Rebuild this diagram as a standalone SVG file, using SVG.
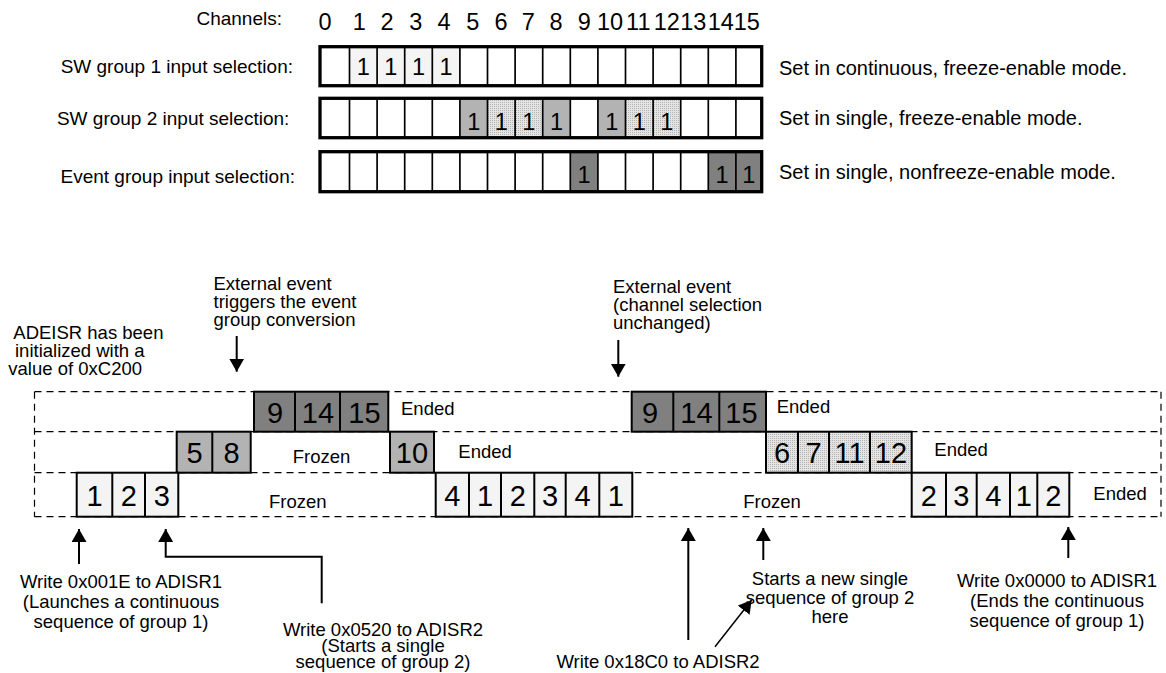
<svg xmlns="http://www.w3.org/2000/svg" width="1166" height="673" viewBox="0 0 1166 673">
<style>
text{font-family:"Liberation Sans",Arial,Helvetica,sans-serif;fill:#000}
.lbl{font-size:18.5px}
.hdr{font-size:19px}
.set{font-size:20px}
.end{text-anchor:end}
.mid{text-anchor:middle}
.ch{font-size:23.5px;text-anchor:middle}
.blk{font-size:29px;text-anchor:middle}
.row{fill:none;stroke:#000;stroke-width:3.3}
.div{stroke:#000;stroke-width:1.7}
.box{stroke:#000;stroke-width:2}
.dash{stroke:#000;stroke-width:1.2;stroke-dasharray:7 5;fill:none}
.dk{fill:#808080}
.md{fill:#b3b3b3}
.lt{fill:#f4f4f4}
.ht{fill:url(#hatch)}
.conn{stroke:#000;stroke-width:2;fill:none}
</style>
<defs>
<pattern id="hatch" patternUnits="userSpaceOnUse" width="2" height="2">
<rect width="2" height="2" fill="#e4e4e4"/>
<rect width="1" height="1" fill="#b4b4b4"/>
</pattern>
<marker id="ah" viewBox="0 0 13 15" refX="13" refY="7.5" markerWidth="13" markerHeight="15" orient="auto" markerUnits="userSpaceOnUse">
<path d="M0,0 L13,7.5 L0,15 z" fill="#000"/>
</marker>
</defs>

<g id="channels">
<text class="hdr end" x="282" y="25">Channels:</text>
<text class="ch" y="29.5"><tspan x="325">0</tspan><tspan x="359.3">1</tspan><tspan x="387">2</tspan><tspan x="415.7">3</tspan><tspan x="444">4</tspan><tspan x="472.7">5</tspan><tspan x="501">6</tspan><tspan x="528.3">7</tspan><tspan x="556">8</tspan><tspan x="584.3">9</tspan><tspan x="610">10</tspan><tspan x="638.3">11</tspan><tspan x="666.7">12</tspan><tspan x="693.3">13</tspan><tspan x="720.7">14</tspan><tspan x="746.7">15</tspan></text>
</g>

<g id="row-sw1">
<text class="hdr end" x="293" y="73">SW group 1 input selection:</text>
<rect class="lt" x="349.5" y="46.7" width="110.4" height="39"/>
<g class="div">
<line x1="349.5" y1="46.7" x2="349.5" y2="85.7"/><line x1="377.1" y1="46.7" x2="377.1" y2="85.7"/><line x1="404.7" y1="46.7" x2="404.7" y2="85.7"/><line x1="432.3" y1="46.7" x2="432.3" y2="85.7"/><line x1="459.9" y1="46.7" x2="459.9" y2="85.7"/><line x1="487.5" y1="46.7" x2="487.5" y2="85.7"/><line x1="515.1" y1="46.7" x2="515.1" y2="85.7"/><line x1="542.7" y1="46.7" x2="542.7" y2="85.7"/><line x1="570.3" y1="46.7" x2="570.3" y2="85.7"/><line x1="597.9" y1="46.7" x2="597.9" y2="85.7"/><line x1="625.5" y1="46.7" x2="625.5" y2="85.7"/><line x1="653.1" y1="46.7" x2="653.1" y2="85.7"/><line x1="680.7" y1="46.7" x2="680.7" y2="85.7"/><line x1="708.3" y1="46.7" x2="708.3" y2="85.7"/><line x1="735.9" y1="46.7" x2="735.9" y2="85.7"/>
</g>
<rect class="row" x="320" y="46.7" width="441.7" height="39"/>
<text class="ch" y="75"><tspan x="363.3">1</tspan><tspan x="390.9">1</tspan><tspan x="418.5">1</tspan><tspan x="446.1">1</tspan></text>
<text class="set" x="779" y="75">Set in continuous, freeze-enable mode.</text>
</g>

<g id="row-sw2">
<text class="hdr end" x="289.3" y="125">SW group 2 input selection:</text>
<rect class="md" x="459.9" y="98.3" width="27.6" height="39.4"/>
<rect class="ht" x="487.5" y="98.3" width="55.2" height="39.4"/>
<rect class="md" x="542.7" y="98.3" width="27.6" height="39.4"/>
<rect class="md" x="597.9" y="98.3" width="27.6" height="39.4"/>
<rect class="ht" x="625.5" y="98.3" width="55.2" height="39.4"/>
<g class="div">
<line x1="349.5" y1="98.3" x2="349.5" y2="137.7"/><line x1="377.1" y1="98.3" x2="377.1" y2="137.7"/><line x1="404.7" y1="98.3" x2="404.7" y2="137.7"/><line x1="432.3" y1="98.3" x2="432.3" y2="137.7"/><line x1="459.9" y1="98.3" x2="459.9" y2="137.7"/><line x1="487.5" y1="98.3" x2="487.5" y2="137.7"/><line x1="515.1" y1="98.3" x2="515.1" y2="137.7"/><line x1="542.7" y1="98.3" x2="542.7" y2="137.7"/><line x1="570.3" y1="98.3" x2="570.3" y2="137.7"/><line x1="597.9" y1="98.3" x2="597.9" y2="137.7"/><line x1="625.5" y1="98.3" x2="625.5" y2="137.7"/><line x1="653.1" y1="98.3" x2="653.1" y2="137.7"/><line x1="680.7" y1="98.3" x2="680.7" y2="137.7"/><line x1="708.3" y1="98.3" x2="708.3" y2="137.7"/><line x1="735.9" y1="98.3" x2="735.9" y2="137.7"/>
</g>
<rect class="row" x="320" y="98.3" width="441.7" height="39.4"/>
<text class="ch" y="130"><tspan x="473.7">1</tspan><tspan x="501.3">1</tspan><tspan x="528.9">1</tspan><tspan x="556.5">1</tspan><tspan x="611.7">1</tspan><tspan x="639.3">1</tspan><tspan x="666.9">1</tspan></text>
<text class="set" x="779" y="125">Set in single, freeze-enable mode.</text>
</g>

<g id="row-event">
<text class="hdr end" x="295" y="183">Event group input selection:</text>
<rect class="dk" x="570.3" y="151.7" width="27.6" height="40"/>
<rect class="dk" x="708.3" y="151.7" width="53.4" height="40"/>
<g class="div">
<line x1="349.5" y1="151.7" x2="349.5" y2="191.7"/><line x1="377.1" y1="151.7" x2="377.1" y2="191.7"/><line x1="404.7" y1="151.7" x2="404.7" y2="191.7"/><line x1="432.3" y1="151.7" x2="432.3" y2="191.7"/><line x1="459.9" y1="151.7" x2="459.9" y2="191.7"/><line x1="487.5" y1="151.7" x2="487.5" y2="191.7"/><line x1="515.1" y1="151.7" x2="515.1" y2="191.7"/><line x1="542.7" y1="151.7" x2="542.7" y2="191.7"/><line x1="570.3" y1="151.7" x2="570.3" y2="191.7"/><line x1="597.9" y1="151.7" x2="597.9" y2="191.7"/><line x1="625.5" y1="151.7" x2="625.5" y2="191.7"/><line x1="653.1" y1="151.7" x2="653.1" y2="191.7"/><line x1="680.7" y1="151.7" x2="680.7" y2="191.7"/><line x1="708.3" y1="151.7" x2="708.3" y2="191.7"/><line x1="735.9" y1="151.7" x2="735.9" y2="191.7"/>
</g>
<rect class="row" x="320" y="151.7" width="441.7" height="40"/>
<text class="ch" y="183.3"><tspan x="584.1">1</tspan><tspan x="722.1">1</tspan><tspan x="748.8">1</tspan></text>
<text class="set" x="779" y="179">Set in single, nonfreeze-enable mode.</text>
</g>

<g id="lanes" class="dash">
<line x1="34.5" y1="391.7" x2="1161" y2="391.7"/>
<line x1="34.5" y1="431.7" x2="1161" y2="431.7"/>
<line x1="34.5" y1="472.7" x2="1161" y2="472.7"/>
<line x1="34.5" y1="516.7" x2="1161" y2="516.7"/>
<line x1="34.5" y1="391.7" x2="34.5" y2="516.7"/>
<line x1="1161" y1="391.7" x2="1161" y2="516.7"/>
</g>

<g id="block-event-1">
<rect class="dk box" x="254" y="391.7" width="134.3" height="40"/>
<line class="box" x1="295" y1="391.7" x2="295" y2="431.7"/><line class="box" x1="340" y1="391.7" x2="340" y2="431.7"/>
<text class="blk" y="422.5"><tspan x="275">9</tspan><tspan x="318">14</tspan><tspan x="364.5">15</tspan></text>
<text class="lbl" x="401" y="415">Ended</text>
</g>

<g id="block-event-2">
<rect class="dk box" x="631.7" y="391.7" width="134.3" height="40"/>
<line class="box" x1="673.3" y1="391.7" x2="673.3" y2="431.7"/><line class="box" x1="719.3" y1="391.7" x2="719.3" y2="431.7"/>
<text class="blk" y="422.5"><tspan x="650">9</tspan><tspan x="696.5">14</tspan><tspan x="741.5">15</tspan></text>
<text class="lbl" x="776.7" y="413">Ended</text>
</g>

<g id="block-sw2-1">
<rect class="md box" x="176.7" y="431.7" width="74" height="41"/>
<line class="box" x1="212.3" y1="431.7" x2="212.3" y2="472.7"/>
<text class="blk" y="462.5"><tspan x="194.5">5</tspan><tspan x="231.5">8</tspan></text>
<text class="lbl" x="292.7" y="463">Frozen</text>
</g>

<g id="block-sw2-2">
<rect class="md box" x="390" y="431.7" width="44" height="41"/>
<text class="blk" x="412" y="462.5">10</text>
<text class="lbl" x="458.3" y="458">Ended</text>
</g>

<g id="block-sw2-3">
<rect class="ht box" x="766" y="431.7" width="145.7" height="41"/>
<line class="box" x1="798" y1="431.7" x2="798" y2="472.7"/><line class="box" x1="829" y1="431.7" x2="829" y2="472.7"/><line class="box" x1="870" y1="431.7" x2="870" y2="472.7"/>
<text class="blk" y="462.5"><tspan x="782">6</tspan><tspan x="813.5">7</tspan><tspan x="849.5">11</tspan><tspan x="891">12</tspan></text>
<text class="lbl" x="934.3" y="456">Ended</text>
</g>

<g id="block-sw1-1">
<rect class="lt box" x="76.7" y="472.7" width="101.6" height="44"/>
<line class="box" x1="112.3" y1="472.7" x2="112.3" y2="516.7"/><line class="box" x1="145" y1="472.7" x2="145" y2="516.7"/>
<text class="blk" y="505.5"><tspan x="94.5">1</tspan><tspan x="128.7">2</tspan><tspan x="161.7">3</tspan></text>
<text class="lbl" x="269" y="508">Frozen</text>
</g>

<g id="block-sw1-2">
<rect class="lt box" x="435.7" y="472.7" width="196.6" height="44"/>
<line class="box" x1="469" y1="472.7" x2="469" y2="516.7"/><line class="box" x1="501" y1="472.7" x2="501" y2="516.7"/><line class="box" x1="534.3" y1="472.7" x2="534.3" y2="516.7"/><line class="box" x1="565.7" y1="472.7" x2="565.7" y2="516.7"/><line class="box" x1="599.3" y1="472.7" x2="599.3" y2="516.7"/>
<text class="blk" y="505.5"><tspan x="452.4">4</tspan><tspan x="485">1</tspan><tspan x="517.7">2</tspan><tspan x="550">3</tspan><tspan x="582.5">4</tspan><tspan x="615.8">1</tspan></text>
<text class="lbl" x="743.3" y="508">Frozen</text>
</g>

<g id="block-sw1-3">
<rect class="lt box" x="911.7" y="472.7" width="157.6" height="44"/>
<line class="box" x1="946" y1="472.7" x2="946" y2="516.7"/><line class="box" x1="976.7" y1="472.7" x2="976.7" y2="516.7"/><line class="box" x1="1010" y1="472.7" x2="1010" y2="516.7"/><line class="box" x1="1037.3" y1="472.7" x2="1037.3" y2="516.7"/>
<text class="blk" y="505.5"><tspan x="928.9">2</tspan><tspan x="961.4">3</tspan><tspan x="993.4">4</tspan><tspan x="1023.7">1</tspan><tspan x="1053.3">2</tspan></text>
<text class="lbl" x="1093.3" y="500">Ended</text>
</g>

<g id="note-init">
<text class="lbl" x="13.3" y="339">ADEISR has been</text>
<text class="lbl" x="15" y="357">initialized with a</text>
<text class="lbl" x="8.3" y="375">value of 0xC200</text>
</g>
<g id="note-ext1">
<text class="lbl" x="213.5" y="290">External event</text>
<text class="lbl" x="213.5" y="308">triggers the event</text>
<text class="lbl" x="213.5" y="326">group conversion</text>
</g>
<g id="note-ext2">
<text class="lbl" x="613" y="293">External event</text>
<text class="lbl" x="613" y="311">(channel selection</text>
<text class="lbl" x="613" y="329">unchanged)</text>
</g>
<g id="note-w1">
<text class="lbl mid" x="121" y="588">Write 0x001E to ADISR1</text>
<text class="lbl mid" x="121" y="608">(Launches a continuous</text>
<text class="lbl mid" x="121" y="628">sequence of group 1)</text>
</g>
<g id="note-w2">
<text class="lbl mid" x="383" y="636">Write 0x0520 to ADISR2</text>
<text class="lbl mid" x="383" y="652">(Starts a single</text>
<text class="lbl mid" x="383" y="668">sequence of group 2)</text>
</g>
<g id="note-w3">
<text class="lbl mid" x="658" y="668">Write 0x18C0 to ADISR2</text>
</g>
<g id="note-new">
<text class="lbl mid" x="830" y="585">Starts a new single</text>
<text class="lbl mid" x="830" y="604">sequence of group 2</text>
<text class="lbl mid" x="830" y="623">here</text>
</g>
<g id="note-w4">
<text class="lbl mid" x="1057" y="587">Write 0x0000 to ADISR1</text>
<text class="lbl mid" x="1057" y="607">(Ends the continuous</text>
<text class="lbl mid" x="1057" y="627">sequence of group 1)</text>
</g>

<g id="connectors" class="conn">
<line x1="236.7" y1="336" x2="236.7" y2="371.7" marker-end="url(#ah)"/>
<line x1="618.3" y1="340" x2="618.3" y2="376.7" marker-end="url(#ah)"/>
<line x1="79" y1="564" x2="79" y2="529" marker-end="url(#ah)"/>
<polyline points="321.7,603.3 321.7,556.7 165.7,556.7 165.7,529" marker-end="url(#ah)"/>
<line x1="688.3" y1="640" x2="688.3" y2="528" marker-end="url(#ah)"/>
<line x1="763.3" y1="560" x2="763.3" y2="528" marker-end="url(#ah)"/>
<line x1="715" y1="646.7" x2="751.7" y2="600" stroke-width="1.5" marker-end="url(#ah)"/>
<line x1="1068.3" y1="558" x2="1068.3" y2="527" marker-end="url(#ah)"/>
</g>
</svg>
